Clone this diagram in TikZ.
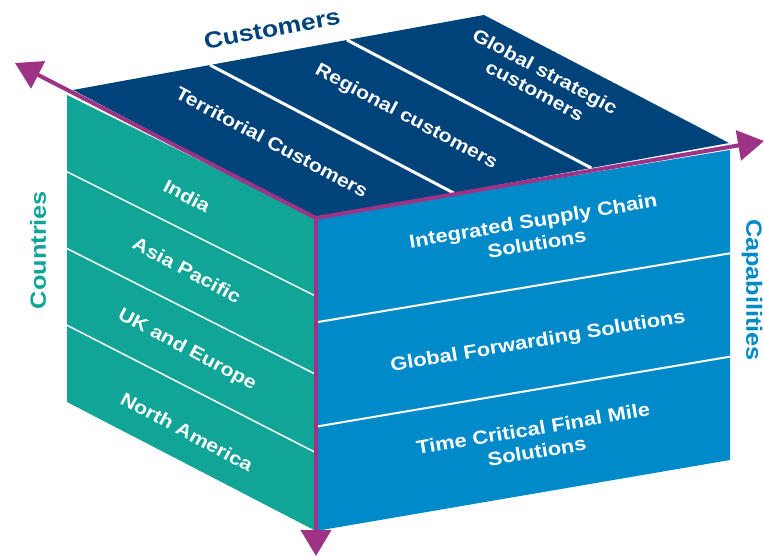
\documentclass[tikz,border=0pt]{standalone}
\usepackage{fontspec}
\setmainfont{Liberation Sans}[FakeStretch=1.15]
\usetikzlibrary{arrows.meta, calc}
\definecolor{cube_navy}{HTML}{00427A}
\definecolor{cube_teal}{HTML}{10A596}
\definecolor{cube_blue}{HTML}{008AC9}
\definecolor{cube_purple}{HTML}{9C3385}

\begin{document}
\begin{tikzpicture}[
    x=1pt, y=-1pt,
    axis/.style={draw=cube_purple, line width=4pt, -{Triangle[length=26pt, width=30pt]}},
    divider/.style={draw=white, line width=1.5pt},
    facetext/.style={font=\bfseries\fontsize{18.5}{22}\selectfont, text=white, align=center, inner sep=0pt},
    axistext/.style={font=\bfseries\fontsize{22}{26}\selectfont, inner sep=0pt}
]
\useasboundingbox (0, 0) rectangle (764, 557);

%% ---- Eckpunkte des Wuerfels ----
\coordinate (front) at (316, 218);
\coordinate (frontbot) at (316, 531);
\coordinate (left) at (67, 95);
\coordinate (leftbot) at (67, 402);
\coordinate (right) at (730, 150);
\coordinate (rightbot) at (730, 460);
\coordinate (topleft) at (73, 90);
\coordinate (topback) at (484, 15);
\coordinate (topright) at (729, 143);

%% ---- Oberseite (Customers) ----
\fill[fill=cube_navy]
    (topleft) -- (topback) -- (topright) -- (front) -- cycle;
\foreach \t in {1, 2} {
    \draw[divider, line width=3pt]
        ($(topleft)!\t/3!(topback)$) -- ($(front)!\t/3!(topright)$);
}

%% ---- Linke Seite (Countries) ----
\fill[fill=cube_teal]
    (left) -- (front) -- (frontbot) -- (leftbot) -- cycle;
\foreach \t in {1, 2, 3} {
    \draw[divider]
        ($(left)!\t/4!(leftbot)$) -- ($(front)!\t/4!(frontbot)$);
}

%% ---- Rechte Seite (Capabilities) ----
\fill[fill=cube_blue]
    (front) -- (right) -- (rightbot) -- (frontbot) -- cycle;
\foreach \t in {1, 2} {
    \draw[divider, line width=2pt]
        ($(front)!\t/3!(frontbot)$) -- ($(right)!\t/3!(rightbot)$);
}

%% ---- Beschriftung Oberseite ----
\node[facetext, rotate=-28] (territorial) at (272, 142) {Territorial Customers};
\node[facetext, rotate=-28] (regional) at (406, 117) {Regional customers};
\node[facetext, rotate=-28] (global) at (540, 81) {Global strategic\\customers};

%% ---- Beschriftung linke Seite ----
\node[facetext, rotate=-28] (india) at (187, 196) {India};
\node[facetext, rotate=-28] (asia) at (187, 270) {Asia Pacific};
\node[facetext, rotate=-28] (europe) at (187, 350) {UK and Europe};
\node[facetext, rotate=-28] (america) at (187, 432) {North America};

%% ---- Beschriftung rechte Seite ----
\node[facetext, font=\bfseries\fontsize{19}{23}\selectfont, rotate=9.5]
    (supply) at (535, 232) {Integrated Supply Chain\\Solutions};
\node[facetext, font=\bfseries\fontsize{19}{23}\selectfont, rotate=9.5]
    (forwarding) at (538, 342) {Global Forwarding Solutions};
\node[facetext, font=\bfseries\fontsize{19}{23}\selectfont, rotate=9.5]
    (finalmile) at (535, 440) {Time Critical Final Mile\\Solutions};

%% ---- Achsenbeschriftungen ----
\node[axistext, font=\bfseries\fontsize{23}{27}\selectfont, text=cube_navy, rotate=10.5]
    (customers) at (272, 29) {Customers};
\node[axistext, text=cube_teal, rotate=90] (countries) at (38, 250) {Countries};
\node[axistext, text=cube_blue, rotate=-90] (capabilities) at (752, 290) {Capabilities};

%% ---- Achsen (Pfeile aus der vorderen Ecke) ----
\coordinate (tipleft) at (15, 63);
\coordinate (tipright) at (764, 141);
\coordinate (tipdown) at (316, 556);
\draw[axis] (front) -- (tipleft);
\draw[axis] (front) -- (tipright);
\draw[axis] (front) -- (tipdown);

\end{tikzpicture}
\end{document}
